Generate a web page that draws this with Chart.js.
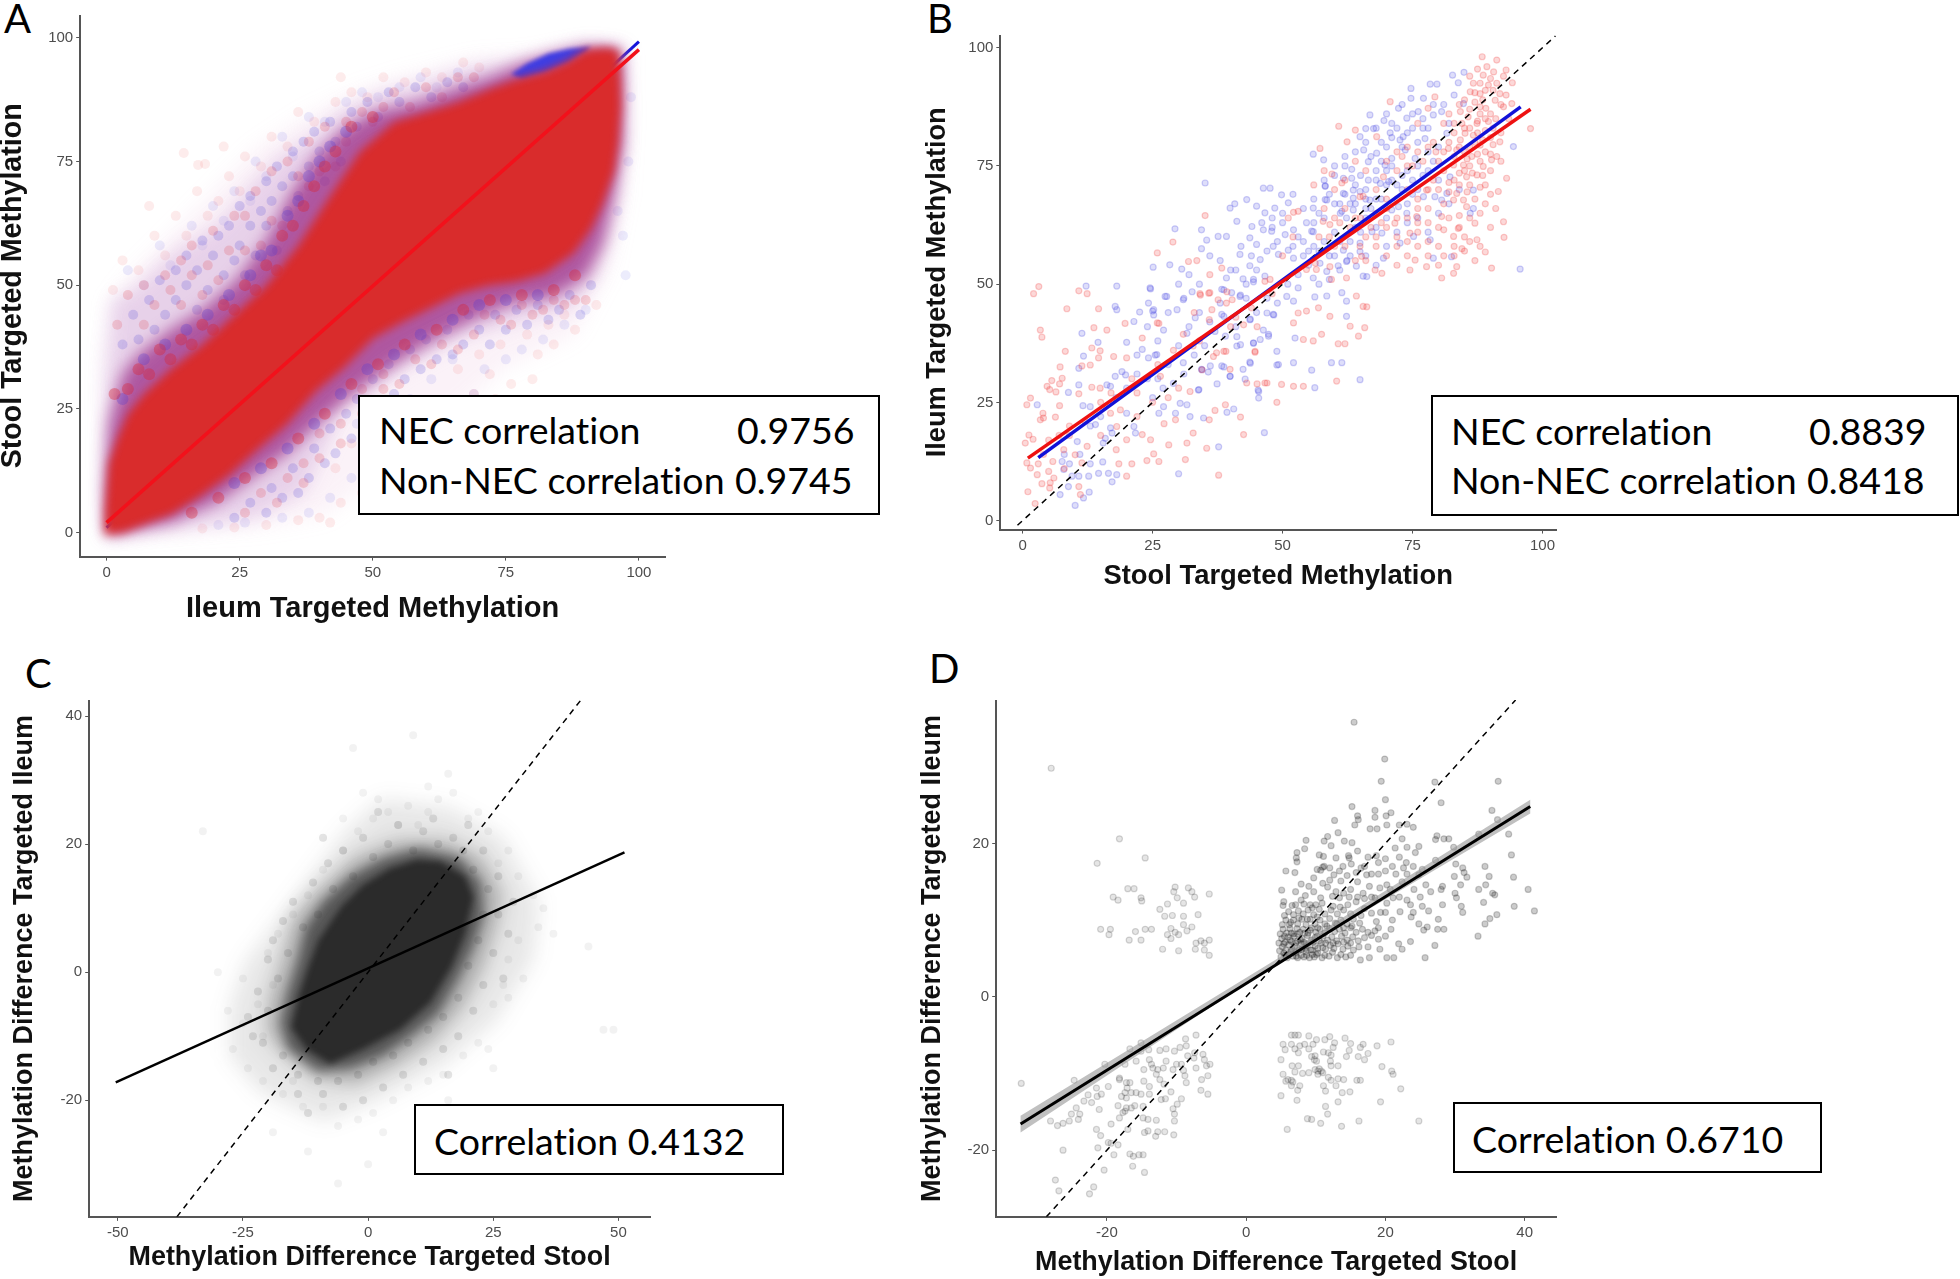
<!DOCTYPE html>
<html>
<head>
<meta charset="utf-8">
<title>Stool and ileum targeted methylation</title>
<script src="https://cdn.jsdelivr.net/npm/chart.js@4/dist/chart.umd.js"></script>
<style>
  html, body { margin: 0; background: #fff; }
  #page { position: relative; width: 1960px; height: 1279px; overflow: hidden; }
  canvas { position: absolute; }
  .letter { position: absolute; font: 400 40px Lato, sans-serif; line-height: 42px; color: #000; }
  .box { position: absolute; background: #fff; border: 2px solid #000; box-sizing: border-box; }
  .note { position: absolute; font: 37.5px Lato, sans-serif; font-variant-ligatures: none; line-height: 40px; color: #000; white-space: nowrap; }
</style>
</head>
<body>
<div id="page">
  <div class="letter" style="left:4px;top:-3px">A</div>
  <div class="letter" style="left:927px;top:-3px">B</div>
  <div class="letter" style="left:25px;top:652px">C</div>
  <div class="letter" style="left:929px;top:647px">D</div>

  <canvas id="chartA"></canvas>
  <canvas id="chartB"></canvas>
  <canvas id="chartC"></canvas>
  <canvas id="chartD"></canvas>

  <div class="box" style="left:358px;top:395px;width:522px;height:120px"></div>
  <div class="note" style="left:379px;top:410px">NEC correlation</div>
  <div class="note" style="left:737px;top:410px">0.9756</div>
  <div class="note" style="left:379px;top:460px">Non-NEC correlation</div>
  <div class="note" style="left:735px;top:460px">0.9745</div>

  <div class="box" style="left:1431px;top:395px;width:528px;height:121px"></div>
  <div class="note" style="left:1451px;top:411px">NEC correlation</div>
  <div class="note" style="left:1809px;top:411px">0.8839</div>
  <div class="note" style="left:1451px;top:460px">Non-NEC correlation</div>
  <div class="note" style="left:1807px;top:460px">0.8418</div>

  <div class="box" style="left:414px;top:1104px;width:370px;height:71px"></div>
  <div class="note" style="left:434px;top:1121px">Correlation 0.4132</div>

  <div class="box" style="left:1453px;top:1102px;width:369px;height:71px"></div>
  <div class="note" style="left:1472px;top:1119px">Correlation 0.6710</div>
</div>

<script>
const ticksAB = [0, 25, 50, 75, 100];
const ticksCx = [-50, -25, 0, 25, 50];
const ticksCy = [-20, 0, 20, 40];
const ticksDx = [-20, 0, 20, 40];
const ticksDy = [-20, 0, 20];

// Panel A: density outlines of the saturated cloud
const cloudAFar = [[0,-.8],[14.5,.4],[28.5,1.2],[41.4,3.7],[49,10.3],[57.6,16.9],[66.3,25.2],[74.9,33.4],[87.8,40],[94.3,53.2],[97,68.1],[97.8,82.9],[97.5,97.8],[90,98.6],[79.2,96.1],[69.5,95.7],[55.5,92],[46.8,89],[37.1,84],[27.4,77],[16.6,65],[4.7,52],[1,47],[-.6,33.4]];
const cloudAPale = [[0,-.7],[16,1],[28,3],[37,8],[44.7,25],[55.5,33],[66,39],[77,42.5],[88,45.8],[92,52],[95,62],[96.8,78],[97,97.5],[90,98.3],[80,95.5],[68,94],[60,91],[52,89],[44.4,85.4],[39.4,80.8],[32.5,76],[27.5,70.7],[21.3,62.6],[13,57],[4.9,49],[1,47],[-.3,30]];
const cloudAMid = [[0,-.6],[12.3,2.1],[20.9,6.2],[26.3,10.3],[33.9,16.1],[40.4,22.7],[46.8,28.5],[54.4,34.2],[61.9,39.2],[69.5,43.3],[77,46.6],[83.5,47.4],[90,51.6],[93.2,58.2],[95.4,68.1],[97,78.8],[97,91.2],[96.5,97.9],[90,98.2],[84.6,96.9],[78.1,94.9],[72,92],[66,90],[58.7,87],[50,85],[44.4,81.4],[39.4,76],[34.7,68.6],[30,59],[24.4,51],[18,45],[12,41],[6,36],[3,32],[.4,22],[-.3,8.7]];
const cloudACore = [[-.3,-.4],[3.1,0],[8,2],[12.3,3.7],[17.7,7.4],[23,11.5],[28.5,16.9],[33.9,21.9],[39.3,28.5],[44.7,33.4],[50,39.2],[55.5,42.5],[60.9,45.4],[66.3,48.3],[71.6,49.9],[77,50.7],[82.4,52.4],[87.8,56.5],[91.1,61.5],[93.2,66.4],[95.4,73],[96.2,78.8],[96.7,86.2],[96.5,92.8],[96.2,97.3],[94.3,98],[90,97.6],[86.8,95.3],[82.4,93.2],[77,91.6],[72.7,90],[66,87],[60,85],[54,83],[47.6,77],[42,68],[36,58],[30,50],[24,44],[18,38],[12,33],[7,28],[4,24],[2,19],[.4,14],[-.3,4.5]];
const cloudATip = [[76,92.6],[79,94.8],[83,96.8],[87,97.8],[91,98.2],[90,97],[87,95],[82.5,93],[78,91.6]];
const speckleARed = [[14.5,76.7],[17.2,74.3],[18.5,74.5],[1.2,49],[3,55],[6,53],[9,60],[11,56],[13,64],[15,60],[17,69],[19,64],[21,67],[23,72],[25,69],[26,76],[29,74],[31,80],[34,78],[36,85],[39,83],[43,87],[46,89],[49,88],[52,92],[56,91],[60,93],[63,92],[67,95],[70,94],[8,66],[22,78],[44,92],[60,24],[64,21],[69,28],[72,32],[76,30],[81,36],[84,38],[88,41],[50,12],[48,8],[44,6],[40,3],[36,2.5],[30,1.5],[24,1],[18,.8],[46,18],[43,13],[54,20],[58,17],[63,26],[66,33],[70,36],[74,38],[79,40],[83,42],[86,44],[42,2],[52,7],[56,12],[67,22],[73,27],[80,31],[92,46]];
const speckleABlue = [[4,53],[7,50],[10,58],[12,54],[16,62],[18,58],[20,66],[22,63],[24,69],[27,67],[28,75],[30,72],[33,80],[35,76],[38,84],[41,83],[45,87],[48,89],[51,88],[55,90],[59,92],[62,90],[66,93],[69,28],[71,33],[75,35],[78,37],[82,39],[86,42],[90,45],[62,23],[59,19],[55,15],[50,16],[46,11],[42,7],[38,4],[33,3],[21,1.5],[26,2],[47,22],[53,24],[57,27],[61,31],[65,35],[96,65],[97,60],[98,75],[98.5,88],[97.5,52]];
const mottleABlue = [[3,38],[5,44],[6,39],[8,47],[9,41],[10,51],[11,44],[13,53],[13,47],[15,50],[15,56],[17,45],[17,53],[18,59],[19,49],[20,56],[21,60],[22,52],[22,47],[23,62],[24,55],[25,58],[25,66],[26,52],[27,62],[27,68],[28,56],[29,65],[30,62],[30,71],[31,67],[32,57],[32,74],[33,70],[34,65],[35,77],[35,72],[36,68],[37,79],[38,74],[39,81],[40,77],[41,71],[42,83],[43,79],[44,75],[46,85],[47,82],[49,87],[51,84],[53,89],[55,87],[58,90],[61,88],[64,91],[67,90],[24,3],[27,6],[30,4],[31,9],[33,7],[35,13],[36,8],[38,11],[39,17],[41,14],[42,21],[43,16],[45,24],[46,19],[47,27],[49,22],[50,31],[51,26],[53,34],[54,28],[56,31],[57,37],[59,33],[60,39],[62,35],[64,41],[65,36],[67,38],[68,44],[70,41],[72,38],[73,44],[75,41],[77,45],[79,42],[81,46],[83,43],[85,45],[87,48],[89,44],[91,50]];
const mottleARed = [[2,42],[4,48],[7,42],[7,50],[9,46],[11,52],[12,49],[14,46],[14,55],[16,52],[16,58],[18,48],[19,54],[20,61],[21,51],[23,57],[24,64],[26,57],[26,64],[28,69],[29,58],[31,63],[31,73],[33,62],[34,75],[36,72],[38,70],[38,79],[40,73],[41,82],[43,74],[45,83],[45,79],[48,85],[50,83],[52,86],[54,89],[57,86],[60,90],[63,88],[66,92],[69,92],[26,4],[29,8],[32,6],[34,11],[37,10],[37,14],[40,15],[40,20],[44,18],[44,22],[48,24],[48,29],[52,29],[52,32],[55,30],[58,35],[61,34],[63,38],[66,37],[69,40],[71,44],[74,43],[76,42],[78,46],[80,44],[82,45],[84,47],[86,46],[88,47],[90,47]];
const bandARed = [[1.5,28],[4,29],[6,33],[8,32],[10,37],[12,35],[14,39],[16,38],[18,42],[20,41],[22,46],[24,45],[26,50],[28,49],[30,54],[32,53],[33,60],[35,62],[37,66],[39,70],[41,74],[43,77],[46,82],[50,84],[16,4],[21,7],[26,11],[31,14],[36,19],[41,24],[46,30],[51,34],[56,38],[62,41],[67,45],[72,47],[78,48],[84,49],[88,52]];
const bandABlue = [[3,27],[7,35],[11,38],[15,41],[19,44],[23,48],[27,52],[29,56],[31,57],[34,64],[36,67],[38,72],[40,75],[42,78],[45,81],[24,10],[29,13],[34,17],[39,22],[44,28],[49,33],[54,36],[59,40],[65,43],[70,46],[75,47],[81,48]];
const lineARed = [[0,2],[100,97.6]];
const lineABlue = [[0,1],[100,99.2]];

// Panel B: individual points
const pointsBRed = [[3.1,49.5],[2.1,48],[8.5,44.8],[10.8,48.6],[12.4,48],[14.6,44.8],[3.4,40.3],[3.7,38.8],[8.2,35.8],[13.7,40.8],[16.2,40.3],[19.7,41.7],[23,38.6],[26.2,41.7],[14.9,35.9],[13.3,36.5],[14.6,34.4],[13,32.9],[11.4,32.7],[7.2,32.5],[7.6,30.1],[5.6,29.6],[4.7,28.4],[5.2,27.7],[6.4,27.2],[7.1,28.9],[10.8,26.8],[13.3,28.2],[14.9,28],[17.5,34.7],[20,34.4],[1.5,25.9],[.8,24.5],[7.1,24.3],[3.9,22.7],[4,21.7],[6.3,21.9],[3.4,21.3],[1.2,18.1],[2,17.2],[.5,16.4],[.8,12.2],[1.5,11.1],[2.8,9.7],[5,10.4],[5.8,12.5],[5.3,8],[3.7,7.8],[5.2,6.9],[1,6.1],[2.4,3.6],[7.9,15],[10.1,13.9],[12.4,15.7],[11.4,12.2],[10.8,7.2],[11.1,5.5],[16.9,22.7],[18.8,23.4],[18.1,19.9],[20,17.1],[23,18.2],[24.6,17.1],[27.2,20.5],[29.4,21.3],[28.1,16],[31.6,16.4],[32.8,18.5],[23.9,12.7],[26.2,12.5],[31.3,12.9],[25.2,14.1],[21,12],[18.5,12],[20,9.4],[35.4,15.3],[37.7,9.6],[37,23.3],[35.9,21.3],[39,24.5],[41.9,21.9],[42.5,18.2],[45.1,28.9],[47,29.1],[48.9,25],[39.9,32],[38.7,35.8],[44.7,35.8],[36.7,34.7],[32.2,27.3],[34.5,31.9],[26.5,30.5],[35.9,42.5],[39.3,48.4],[35.8,48.1],[34.2,47.7],[40.3,46.7],[42.5,41.4],[45.1,41],
[28.9,58.9],[25.9,56.6],[31.9,54.8],[33.5,55],[36,52],[38.3,53.4],[36,48.2],[34.1,48],[35.1,64.5],[52.1,65.2],[53,65.4],[51.1,64],[57.8,63.3],[59.1,62.6],[46.6,50.6],[47.6,51],[39.2,46],[37.6,46.7],[36.4,44.6],[25.9,41.8],[30.9,39.4],[32.8,36.9],[37.3,35.5],[39.1,35.8],[44.7,35.6],[43.1,29.1],[46.6,29.1],[49.8,28.8],[52.1,28.4],[54,28.4],[60.4,29.5],[60.7,37.4],[62,37.4],[57.5,39.4],[55.9,38],[54,38.3],[52.1,41.8],[53,43.9],[54.6,44.3],[56.9,45],[59.1,43.2],[63,41.1],[64.6,39],[65.8,40.8],[65.5,45.3],[66.2,45.2],[64.2,47.5],[59.4,51],[56.5,53.1],[54.6,53.1],[62.3,51.3],[65.2,55.9],[64.9,58],[61.4,71.4],[65.5,68.6],
[88.4,98.1],[91.2,97.4],[93,95.3],[89.3,96],[90.6,94.9],[88.6,94.2],[86.7,92.5],[94.2,92.6],[91.2,92.5],[89.6,92.1],[91.8,90.3],[88,90.3],[86.1,90.7],[79.3,89.6],[78,87.2],[89.1,87.2],[88,87.5],[92.5,87.5],[94.1,88.2],[90.9,88.9],[84.2,86.5],[85.7,85.4],[87.4,84],[89.6,84.4],[97.7,82.9],[84.2,80.5],[85.1,81.9],[86.7,81.5],[81.9,78.7],[83.5,78.4],[86.4,77],[88,79.4],[91.8,80.1],[90.2,76.3],[91.2,77],[88.6,74.9],[84.8,75.2],[82.9,75.2],[93.1,72.4],[91.5,69.6],[87.4,73.1],[85.4,72.7],[83.5,69.2],[84.8,67.8],[82.9,67.8],[85.4,66.4],[83.8,61.8],[82.9,60.1],[87.4,59.4],[92.5,63.2],[92.6,59.9],[89,56.8],[90.2,53.4],[83.5,53.7],[82.9,52.3],[87,62.9],[57.2,78.7],[60.8,83.4],[62.4,80.1],[64,82.6],[59.5,73.3],[64.9,68.5],[68.1,81.2],[69.4,72.7],[70.7,88.6],[77.7,69.9],[75.8,64.3],[74.5,60.8],[71.6,62.9],[80.6,64.3],[75.5,55.1],[77.7,53.7],[74.5,53],[69.1,52.3],[81,61.5],[80.6,51.3],[56.3,54.4],[59.1,53.7],[67.8,53],
[87,88.5],[88.5,89],[90,86],[89,85],[91,85],[87.5,82],[89,82.5],[90.5,83],[86,79],[87.5,77.5],[89,78],[90.5,79.5],[85,78],[84,73.5],[86,71],[88,70.5],[84,64.5],[85.5,69.5],[82,71.5],[81,67],[79,72],[77,76],[79,80],[81,84],[83,84],[76,84],[74,79],[72,74],[70,68],[68,65],[78,63],[80,58],
[86,94],[87.5,95.5],[90,93.5],[92.5,94],[85,89],[87,90.5],[89,91],[93,90],[92,88],[86,87],[84,88],[82,86],[83,82],[85,83],[88,86],[90,81],[92,82],[93.5,85],[82,80],[84,79],[86,75],[88,76],[90,74],[92,76],[80,76],[81,74],[83,72],[85,74],[87,68],[89,71],[89,67],[91,66],[86,64],[84,62],[82,64],[80,62],[78,66],[76,68],[74,70],[72,68],[75,75],[73,77],[70,76],[68,70],[66,74],[64,76],[62,72],[60,70],[58,74],[56,71],[58,66],[60,64],[62,66],[64,64],[66,60],[68,58],[70,56],[72,58],[74,56],[76,58],[78,56],[80,54],[85,57],[87,55],[83,58],[85,60],[76,61],[72,54],[70,62],[68,60],[52,60],[50,56],[48,48],[44,45],[41,43],[33,44],[29,36],[26,33],[22,27],[21,30],[17,27],[15,25],[12,21],[9,20],[7,18],[5,17],[4,14],[3,12],[6,9],[8,11],[9,18],[15,18],[18,15],[22,22],[25,25],[28,26],[30,28],[34,38],[40,41],
[88,92.5],[90.5,91],[87.5,84.5],[86,83],[84.5,84],[88.5,80.5],[90,77.5],[87,80],[85.5,76.5],[83,77],[81,78],[79.5,78],[78,79],[76,78],[74,75],[72,78],[84,71],[86.5,73.5],[88.5,73],[82,69.5],[80,70],[78,70],[76,66],[74,64],[72,64],[70,66],[78,59],[81,56],[83,56],[84.5,57.5],[86,59],[88,65],[90,69],[90,62],[88,58],[76,63],[74,59],[72,60],[69,63],[67,62],[65,64],[63,62],[61,63],[59,60],[57,60],[62,58],[64,55],[66,55],[60,58]];
const pointsBBlue = [[12.2,49.6],[18.1,49.6],[24.6,49],[17.8,45.3],[18.1,44.6],[22.5,44.1],[25.2,44.6],[25.2,43.5],[24.2,46],[27.4,47.4],[31,47],[11.4,39.6],[14.5,37.7],[20,37.7],[21.4,42.1],[27.1,40.3],[31.6,39.6],[29.7,44.6],[32.6,48.4],[23,36.2],[24.2,34.4],[25.5,35],[22,35],[10.8,32.2],[11.7,34.8],[19.1,31.5],[19.8,30.8],[17.8,30.5],[16.2,28.7],[16.9,28.4],[13,24.1],[11.6,24.3],[8.8,27.1],[10.8,28.7],[2.8,24.5],[14,20.3],[16.9,19.6],[17.2,18.5],[15.9,17.4],[20,22.7],[21.4,19.9],[21.7,18.5],[15.5,16.4],[10.5,16.7],[7.6,12.5],[7.9,10.8],[10.8,9.4],[12.7,9.4],[9.5,9.4],[8.8,7.2],[12.8,6],[7.2,5.5],[10.1,3.2],[11.7,4.8],[14.6,10],[16.5,10],[18.1,9.7],[17.2,8.2],[15.4,12.4],[30.3,24.8],[31.6,24.5],[29.4,22.7],[26.2,22.7],[27.1,24.1],[33.9,27.7],[34.5,31.9],[36.1,32.7],[38.7,32.5],[39.9,30.5],[37.4,28.9],[42.8,29.9],[43.8,33.3],[45.4,27.3],[45.4,25.9],[40.6,23.6],[39.3,22.9],[46.5,18.6],[37.7,15.6],[30,9.9],[32.2,22],[34.8,21.7],[47.3,39],[44.4,37.5],[41.9,37.2],[41.2,38.9],[46.3,40.3],[43.8,42.6],[48.3,43.5],[47,43.9],[38.7,43.2],[41.9,47.7],[44.4,50.5],[38.7,48.8],[48.9,32.9],
[35.1,71.4],[41.2,63.3],[46.3,70.3],[47.6,70.3],[49.8,68.9],[43.1,67.9],[40.8,67],[39.9,66.1],[45,66.5],[46.6,65.1],[48.5,66.1],[51.1,67.2],[44.1,62.2],[46.3,61.5],[47.9,61.2],[50.5,60.5],[52.1,61.5],[54.6,63],[55.6,61.2],[55.9,66.1],[58.2,67.9],[58.2,70.7],[61.4,65.4],[62.3,64],[63.6,68.2],[64.9,69.6],[34.4,61.5],[29.3,61.7],[35.4,59.3],[37.6,60.1],[39.2,60.1],[34.4,57.5],[43.7,59.8],[45,58.4],[48.2,58],[51.1,57.2],[49.2,56.3],[52.1,55.5],[41.8,56.3],[43.7,53.9],[45.7,55.2],[30.6,53.2],[25.1,53.6],[28.3,54.1],[39.2,51.3],[42.4,51.1],[44.4,51],[46.6,51.7],[38.3,48.9],[40.2,48.2],[41.8,47.4],[27.7,47.4],[30.9,46.7],[25,44.3],[24.5,49.2],[38.3,43.6],[33.2,42.9],[43.7,42.5],[47.3,39.4],[48.2,43.6],[50.8,47.4],[52.1,46.4],[56.2,47.3],[58.5,47.5],[61.4,48.2],[62.3,46.4],[62.3,43.2],[65.5,51.7],[64.2,53.8],[62.3,54.8],[60.7,53.9],[58.5,52.7],[55.9,51.3],[53,49.2],[52.4,38.6],[48.9,35.8],[52.1,33.4],[49.2,33],[55.6,31.8],[59.4,33.4],[61.4,33.4],[64.9,29.8],[56.2,28.1],[45.3,27.6],[43.7,33.5],[42.4,32],[39.9,30.5],[38.3,32.7],[35.7,31.4],[34.4,32],[30.9,33.4],[33.8,27.6],[25.8,35.1],[41.2,36.9],[44.4,37.6],[45.7,38.3],
[84.9,94.8],[82.7,94.2],[83.8,92.6],[79.7,92.3],[78.4,92.3],[74.7,91.4],[74.7,89.3],[77.1,89.3],[80.6,86.5],[84.8,88.2],[66.8,85.8],[69.5,84.6],[72.3,87.2],[73.9,85.1],[76.1,86.5],[79,85.8],[66,82.9],[67.5,82.9],[70.7,82],[73.2,81.2],[64.9,81.2],[57.9,76.3],[55.9,77.5],[63.3,74.3],[65.6,78.4],[68.1,77.7],[71,76.6],[73.6,78.4],[75.5,76.6],[66.5,75.9],[69.7,75.2],[72.6,80.5],[77.4,80.8],[81.6,81.9],[61.7,72.4],[63.3,72.4],[58.2,70.8],[58.5,67.8],[61.7,69.2],[63.6,69.9],[66.5,72],[68.8,71.3],[70.4,71.7],[66.8,67.8],[61.1,65],[63.6,65.7],[55.9,61.1],[67.2,61.1],[69.1,60.8],[71,65.7],[72.3,66.4],[73.9,65],[77.1,68.5],[79.3,68.5],[80.6,67.8],[82.2,72.7],[86.7,69.9],[86.1,65],[86.7,66],[61.7,57.2],[62.4,55],[64.9,56.9],[66.2,51.6],[69.4,55.5],[72.6,58.7],[75.2,60.1],[78.4,59.4],[79,55.5],[82.5,55.8],[95.7,53.2],[57.2,54.4],[64.9,58.7],[81.6,69.2],[94.4,79.1],
[60,75],[62,77],[64,71],[66,70],[68,74],[70,79],[72,83],[74,82],[76,80],[78,83],[80,79],[70,64],[68,62],[66,64],[64,62],[60,61],[58,59],[56,58],[54,56],[60,56],[73,70],[75,72],[77,73],[79,76],[71,72],[69,68],[67,66],
[69,80],[71,84],[75,86],[77,83],[79,88],[81,88],[82,84],[83,90],[78,78],[74,74],[72,71],[70,74],[68,72],[66,68],[64,67],[62,69],[60,67],[58,64],[56,63],[54,59],[52,58],[50,63],[48,62],[46,63],[44,56],[42,58],[40,53],[38,55],[36,56],[34,50],[32,52],[30,50],[28,44],[26,38],[24,41],[22,31],[20,28],[18,26],[15,22],[13,20],[11,14],[13,12],[9,12],[8,14],[66,56],[68,54],[70,58],[72,61],[74,63],[76,64],[78,61],[80,65],[82,67],[84,70],[76,70],[74,67],[65,61],[63,59],[61,59],[59,56],[57,57],[55,54],[53,52],[51,50],[49,46],[47,47],[45,44],[43,47],[41,41],[39,39],[37,40],[35,37],[33,35],[31,31],[29,29],[27,28],[25,26],
[73,88],[75,83],[77,85],[70,86],[68,83],[66,80],[64,78],[62,75],[60,73],[58,72],[56,68],[54,66],[52,69],[50,65],[48,64],[71,81],[73,79],[76,75],[78,74],[80,72],[70,71],[68,68],[66,66],[63,67],[61,67],[59,69],[57,65],[55,57],[53,60],[49,59],[47,57],[45,53],[43,50],[41,53],[38,46],[36,42],[34,44],[32,41],[30,37],[28,33],[26,30],[24,30],[65,73],[67,77],[69,76],[71,75],[73,73],[75,69],[63,56],[61,53],[59,51],[57,50]];
const lineBRed = [[1,13.2],[97.7,87]];
const lineBBlue = [[3,13.3],[95.8,87.5]];
const lineBDash = [[-1,-1],[102.5,102.5]];

// Panel C: density outlines, then the loose points around them
const cloudCOuter = [[-27.6,-13.1],[-21.3,-18.8],[-8.8,-23.3],[1.7,-20.1],[15.3,-14.4],[25.7,-7.4],[33,2.2],[34.1,11.1],[26.8,21.2],[16.3,25.7],[2.7,27],[-4.6,21.9],[-15.1,11.1],[-24.5,1.5],[-27.6,-5.5]];
const cloudCMid = [[-17.2,-12.5],[-10.9,-16.6],[-2.5,-17.5],[5.9,-14.4],[13.2,-10.6],[18.9,-5.5],[23.1,.9],[25.7,7.2],[26.8,12.3],[22.6,18.1],[15.3,20.6],[5.9,20.6],[-2.5,18.1],[-10.9,12.3],[-15.1,8.5],[-17.2,2.2],[-19.8,-4.2],[-20.3,-9.3]];
const cloudCInner = [[-16,-12],[-10,-15.5],[-3.5,-15],[3,-13],[8.5,-10],[14,-6.5],[18,-1],[21,4],[23,9],[22.5,14],[18,18],[10,19.3],[3,17.8],[-3.5,15],[-9,11],[-12.5,7],[-14,2],[-16,-3],[-17.5,-8]];
const cloudCCore = [[-12.3,-12],[-7.6,-14.3],[-1,-12],[6.4,-8.9],[12.4,-4.7],[16.6,.8],[19.3,6],[21,11.7],[19.3,15],[14.4,17.3],[9.7,17.5],[4.4,16.2],[-1,13.6],[-5.3,10.3],[-9.9,5],[-11.9,.8],[-13.9,-3.9],[-15.3,-8.6]];
const speckleC = [[2,27],[4,25],[8,26],[12,25],[14,27],[17,28],[20,24],[24,22],[28,19],[30,15],[33,12],[35,10],[34,7],[30,5],[28,2],[27,-2],[25,-5],[25,-15],[22,-11],[19,-13],[15,-16],[12,-17],[8,-18],[5,-20],[1,-22],[-2,-23],[-6,-24],[-9,-21],[-13,-21],[-17,-19],[-21,-17],[-24,-15],[-27,-12],[-25,-8],[-22,-5],[-25,-1],[-20,3],[-18,6],[-15,9],[-12,12],[-9,16],[-5,19],[-2,22],[1,24],[6,23],[10,23],[-5,24],[-19,-2],[-21,-10],[-15,-17],[28,-4],[-1,28],[12,29],[16,31],[-3,35],[47,-9],[49,-9],[37,6],[44,4],[-33,22],[-12,-28],[0,-30],[-6,-33],[-19,-25],[10,-24],[9,37],[22,25],[26,17],[31,-1],[24,-12],[16,-20],[3,-25],[-28,-6],[-30,0]];
const fringeC = [[-20,-6],[-17,-13],[-21,-11],[-14,-16],[-18,-1],[-16,3],[-19,5],[-13,7],[-15,11],[-10,9],[-11,14],[-7,13],[-8,17],[-3,15],[-5,19],[1,18],[-1,21],[4,20],[6,23],[9,19],[11,22],[14,20],[13,24],[17,21],[19,19],[21,16],[23,19],[24,13],[26,15],[23,9],[26,9],[22,5],[25,3],[28,6],[20,1],[23,-2],[18,-4],[21,-6],[15,-7],[18,-10],[12,-9],[15,-12],[8,-11],[11,-14],[5,-13],[7,-16],[1,-14],[3,-18],[-2,-16],[-1,-20],[-6,-17],[-5,-21],[-10,-17],[-9,-19],[-14,-19],[-19,-15],[-23,-10],[-22,-3],[-20,2],[-24,-7],[-12,-22],[16,-16],[27,-1],[29,11],[20,23],[2,25],[-9,21],[-17,8]];
const lineCFit = [[-50.4,-17.2],[51.2,18.7]];
const lineCDash = [[-38.2,-38.2],[42.4,42.4]];

// Panel D: individual points by cluster
const pointsDUpperRight = [[15.5,35.8],[19.9,31],[19.4,28.1],[20,25.7],[15.2,24.8],[18.5,24.3],[18.5,23.4],[20.1,23.6],[20.8,24],[16,23.6],[16.1,23.1],[12.7,23],[15.6,22.4],[18.8,21.9],[17.8,21.9],[20.2,22.4],[22,22.4],[23.1,22.5],[13.2,21.4],[24,22.1],[27.1,28],[28,25.3],[36.2,28.1],[35.3,24.3],[36.1,23.1],[37.7,21.2],[38.1,18.5],[38.4,15.6],[40.5,14],[41.4,11.2],[38.5,11.8],[36,10.7],[35,10.2],[34.3,9.5],[33.3,7.9],[34.1,12.3],[35.4,13.5],[35.7,13.3],[34.4,14.6],[33.4,14],[34.9,15.7],[34.3,17],[33.4,21.2],[31.1,16.8],[31.3,16.2],[31.7,15.6],[30.8,14.6],[30,13.5],[30.2,12.9],[30.9,11.8],[31.1,11],[29.8,19.5],[30.1,17.3],[29.9,15.7],[28.4,20.6],[29.1,20.6],[27.4,21],[27.2,20.5],[28.2,14.4],[28,14],[28.2,12],[27.6,10.1],[27.5,8.8],[28.4,8.8],[27.1,6.7],[25.7,5.1],[8.6,20.4],[8.4,19.3],[7.3,18.8],[7.2,18.1],[7.3,17.6],[5.7,16.4],[7,16.2],[11.2,20.3],[11.7,20.9],[12.2,19.7],[11.1,18.3],[11.2,17],[10.2,16.6],[9.7,15.5],[7.9,14.7],[5.1,13.9],[7.1,13.7],[7.9,12.6],[5.4,12.4],[6.6,11.9],[5.3,11.9],[14.1,20.3],[15.2,20.1],[14.7,18.4],[14.8,18.1],[13.9,17],[15.1,17.3],[12.9,18.1],[13.4,16.4],[11.7,14.3],[13.6,15.1],[9.7,13.7],[12.9,13.7],[13.4,12.9],[10.7,12.9],[12.4,13.1],[9.2,12],[16.5,16.8],[17.3,15.9],[18.7,18.4],[20,16.4],[21.4,19.4],[22.4,20.6],[24.8,19.6],[23.1,19.5],[24.3,18.8],[22.6,16.8],[23.1,16],[25.3,16.6],[25.8,14.6],[27.2,17.8],[26.5,13.7],[24.8,15.9],[24.1,14],[22.4,15],[20.2,14.6],[20.7,14],[19.2,14.2],[17.7,14.4],[16.8,13.5],[15.8,12.4],[14.6,12],[18.5,12.9],[20.2,12.2],[21.1,12.9],[23.1,12.6],[23.6,12],[25.3,11.8],[26.2,11.2],[23.7,10.4],[22.1,11.1],[19.3,11],[18,10.9],[16.5,10.6],[24.8,9.5],[26,9.1],[25.5,8.7],[20.8,8.8],[20,7.9],[18.7,9.8],[17.5,8.4],[23.6,7.2],[22.4,6.2],[21.9,6.9],[20.2,5.1],[21.2,5.1],[19.2,6.2],[17.7,5.1],[16.4,4.8],
[5,5.2],[5.4,5.7],[5.9,5.1],[6.2,5.5],[6.7,5.3],[7.1,5.8],[7.4,5.1],[7.9,5.4],[8.3,5.2],[8.6,5.9],[9.1,5.1],[9.5,5.5],[9.8,5.2],[10.3,5.7],[10.9,5.1],[11.3,5.4],[11.9,5.3],[12.4,5.8],[13.1,5.1],[13.6,5.5],[14.3,5.2],[15,5.4],[4.8,6],[5.2,6.5],[5.7,6.1],[6.1,6.8],[6.6,6.2],[7,6.6],[7.6,6.1],[7.9,6.9],[8.5,6.3],[8.8,6.7],[9.3,6.1],[9.9,6.6],[10.3,6.3],[10.8,7],[11.4,6.2],[12.1,6.7],[12.6,6.3],[13.2,6.9],[13.9,6.2],[14.6,6.6],[15.4,6.1],[16.2,6.5],[4.7,7],[5.1,7.6],[5.6,7.1],[6,7.8],[6.5,7.2],[6.9,7.9],[7.4,7.3],[8,7.6],[8.3,7.1],[8.8,8],[9.4,7.4],[9.9,7.7],[10.5,7.3],[11,7.9],[11.7,7.4],[12.3,7.8],[13,7.3],[13.7,7.9],[14.5,7.4],[15.3,7.8],[16.1,7.3],[17,7.7],[4.9,8.2],[5.3,8.8],[5.8,8.3],[6.3,8.9],[6.8,8.2],[7.3,8.9],[7.7,8.4],[8.2,8.8],[8.9,8.3],[9.4,9],[10,8.4],[10.6,8.8],[11.3,8.3],[12,8.9],[12.7,8.5],[13.4,8.8],[14.2,8.3],[15,9],[15.8,8.4],[16.7,8.8],[5.2,9.4],[5.7,10],[6.2,9.4],[6.8,10],[7.4,9.5],[8,10.1],[8.6,9.4],[9.2,10.1],[9.9,9.5],[10.6,10],[11.3,9.5],[12,10.2],[12.8,9.6],[13.6,10],[14.5,9.5],[15.4,10.1],[16.3,9.6],[5.5,10.6],[6.1,11.1],[6.8,10.7],[7.5,11.2],[8.2,10.8],[8.9,11.3],[9.7,10.7],[10.5,11.4],[11.3,10.8],[12.2,11.3],[13.1,10.8],[14,11.3],[15,10.8],[10.7,16.5],[11,16.9],[12,15.2],[9,14.4],[8.5,13.2],[10,12],[11,14.8],[16,15],[17,17],[19,16],[21,17],[23,17.5],[18,13],[20,11],[22,13],[24,11],[17,11.5],[19,9],[21,10],[15,14],[14,13.5],
[5.6,5.4],[6.4,5.9],[7.2,5.3],[8,6.2],[8.7,5.4],[9.5,6.1],[10.1,5.5],[11,6.4],[5.4,6.9],[6.3,7.4],[7.1,7],[7.8,7.4],[8.6,6.9],[9.6,7.1],[10.2,7.9],[11.4,7],[5.5,7.9],[6.5,8.3],[7.4,8.2],[8.4,8.3],[9.2,8.7],[10.3,9],[11.6,9.2],[6.4,9.7],[7.6,10.3],[8.8,10.1],[10.2,10.4],[7.1,12],[8.3,12.1],[9.5,11.6],[10.9,12.2],[12.5,11.8],[13.5,11.7],[14.8,13],[16,13],[17,12.8],[12.6,15.9],[14.5,15.8],[15.8,16.2],[18,16],[19,17.5],[20,18],[21.5,16],[22,18.2],[16,19],[17.5,18.2],[12,16.8],[10.5,18.5],[24,17],[25,13],[12.5,7],[14,7.1],[15,7],[13,9.5],[14,9],[15.2,9.2],[18,8],[19,7.5],[17.5,6.5],[18.5,8.6]];
const pointsDUpperLeft = [[-28,29.8],[-18.2,20.6],[-21.4,17.4],[-14.5,18.1],[-17,14.1],[-16.1,14.1],[-19.1,13],[-18.4,12.6],[-15.1,12.9],[-15,12.5],[-10.2,14.3],[-10.4,13.7],[-8.3,14.2],[-7.8,13.7],[-9.9,12.9],[-5.3,13.4],[-7.4,13],[-12.4,11.4],[-11.3,12.1],[-9,12.2],[-10.6,10.6],[-11.7,10.5],[-6.9,10.7],[-9,10.5],[-9,9.4],[-7.8,9.1],[-8.5,8.6],[-10.8,8.9],[-10.2,8.4],[-11.3,8.1],[-9.7,8.1],[-10.8,7.6],[-20.9,8.8],[-19.5,8.8],[-19.7,8.1],[-16.8,7.4],[-15.9,8.5],[-15.1,7.4],[-14.5,8.8],[-13.6,8.8],[-12,6.2],[-9.7,6],[-7.2,7],[-6.5,7.3],[-5.3,7.4],[-6,7],[-7.3,6.2],[-6,6.1],[-5.3,5.4]];
const pointsDLowerLeft = [[-32.3,-11.3],[-24.7,-10.9],[-28.1,-16.2],[-27.1,-16.8],[-26.3,-16.5],[-25.4,-16.2],[-25.1,-15.3],[-23.9,-15.3],[-24.1,-16],[-24.4,-14.5],[-23.3,-13.6],[-22.2,-13.8],[-22.7,-12.8],[-21.4,-13],[-20.8,-12.7],[-21.5,-11.9],[-19.8,-11.7],[-18.2,-10.8],[-20.3,-8.8],[-16.7,-6.8],[-15.1,-6],[-17.2,-11.2],[-16.7,-11.2],[-17.1,-11.9],[-17.4,-12.5],[-17.9,-13],[-17.2,-13.2],[-16.5,-12.5],[-15.8,-12.5],[-15.1,-12.7],[-13.9,-12.7],[-13.9,-11.7],[-14.7,-11],[-18.4,-14.2],[-17.2,-14.5],[-16.5,-14.5],[-16,-14.2],[-17.7,-15.1],[-18.2,-15.8],[-17.4,-14.9],[-14.8,-14.3],[-17,-17.3],[-14.8,-15.8],[-14.1,-16],[-12.9,-16.1],[-21.1,-14.7],[-19.4,-16.6],[-21.5,-17.3],[-20.9,-18.1],[-18.4,-19.3],[-19.8,-19],[-19.4,-19.1],[-21.3,-19.7],[-26.3,-20],[-19,-20.6],[-16.7,-20.5],[-16.2,-20.8],[-15.4,-20.6],[-14.8,-20.6],[-16.3,-22.1],[-14.6,-22.9],[-20.4,-22.6],[-27.4,-23.9],[-26.9,-25.3],[-22.5,-25.7],[-21.9,-24.8],[-14.6,-17.7],[-14.1,-17.5],[-13,-18.2],[-12.7,-17.6],[-11.7,-17.6],[-10.4,-18],[-10.3,-16.2],[-10.3,-15.3],[-10.5,-14.6],[-9.9,-14],[-9.3,-13.3],[-12.2,-13.4],[-11.6,-13.3],[-10.8,-12.4],[-6.5,-12.2],[-5.5,-12.7],[-6.4,-10.8],[-5.5,-10.3],[-8.6,-11.2],[-8.8,-10.3],[-11.8,-11.4],[-12.4,-10.8],[-12.9,-10.1],[-13.4,-9.3],[-12.7,-9.5],[-11.9,-9.3],[-10.5,-9.5],[-10,-8.8],[-9,-9.6],[-9.3,-8.8],[-11.5,-8.4],[-13.9,-8.2],[-13.6,-8.8],[-14.7,-9.5],[-15.8,-8.4],[-17.4,-8.8],[-18.2,-10.6],[-15.1,-7.1],[-14,-6.9],[-12.4,-7],[-11.5,-6.8],[-10.3,-7.1],[-9.5,-6.6],[-8.6,-6.4],[-8.7,-5.5],[-7.2,-5],[-7.4,-7.3],[-8.4,-7.7],[-6.2,-7.5],[-6,-8.2],[-5.7,-9],[-7.2,-9.3],[-5.2,-8.8],[-7.5,-8]];
const pointsDLowerRight = [[6.5,-5],[7,-5],[7.5,-5],[9,-5.1],[10.1,-5.6],[12,-5.2],[11.3,-5.6],[14.2,-5.4],[5.3,-6.2],[5.6,-6.9],[6.5,-6.2],[7,-6.8],[7.7,-6.4],[8.4,-6.2],[9,-6.8],[9.6,-6.2],[7.5,-7.3],[12.7,-6],[12.5,-6.6],[15,-6.1],[16.8,-6.2],[16.4,-6.6],[18.8,-6.4],[20.8,-5.9],[14.8,-7],[17.5,-7.4],[16.1,-7.8],[17,-8.2],[14.4,-7.8],[11.1,-7.2],[11.8,-7.3],[12.2,-7.6],[9.4,-7.8],[9.9,-7.7],[9.8,-8.2],[10.1,-8.4],[5,-8.2],[12.1,-8.4],[12.2,-9],[13.2,-9],[7.5,-9],[6.6,-9],[7,-9.8],[5.3,-10.1],[8.1,-10],[9,-9.9],[9.9,-9.5],[10.3,-9.7],[10.8,-9.7],[10.5,-9.4],[10.3,-10.1],[11,-9.9],[11.8,-10.5],[12.2,-10.9],[13.2,-10.7],[14,-10.8],[15.9,-10.9],[16.4,-10.9],[19.5,-9.1],[20.9,-9.7],[21.1,-10.1],[6,-10.8],[6.5,-10.9],[6.7,-11.1],[5.7,-11],[7.7,-11.6],[6.5,-11.6],[7.4,-12.2],[11.1,-11.6],[11.4,-12.3],[12.9,-11.6],[13.8,-12.5],[14.9,-12.4],[22.2,-12],[5,-12.9],[7.3,-13.5],[13.2,-13.7],[19.3,-13.7],[11.4,-14.3],[11.7,-15.3],[8.8,-15.9],[9.4,-16],[10.7,-16.5],[13.7,-16.9],[16.2,-16.2],[24.8,-16.2],[5.9,-17.3]];
const lineDFit = [[-32.4,-16.6],[40.8,24.8]];
const lineDDash = [[-28.7,-28.7],[38.7,38.7]];
const ribbonD = [[-32.4,-15.5],[4,4.7],[40.8,25.7],[40.8,23.9],[4,4.1],[-32.4,-17.7]];

const tickFont = { family: 'Liberation Sans', size: 15 };
const tickColor = '#4d4d4d';

function toXY(list) {
    return list.map(p => ({ x: p[0], y: p[1] }));
}

function scatter(list, fill, stroke, radius) {
    return {
        data: toXY(list),
        backgroundColor: fill,
        borderColor: stroke || 'transparent',
        pointRadius: radius || 3,
        pointBorderWidth: stroke ? 1.2 : 0
    };
}

function line(list, color, width, dash) {
    return {
        data: toXY(list),
        showLine: true,
        borderColor: color,
        borderWidth: width,
        borderDash: dash || [],
        pointRadius: 0
    };
}

function area(list, color, blur) {
    return {
        data: toXY(list),
        showLine: true,
        fill: 'shape',
        backgroundColor: color,
        borderColor: 'transparent',
        borderWidth: 0,
        pointRadius: 0,
        softEdge: blur || 0
    };
}

// Hay que correr antes que el filler para que el blur afecte al relleno
const softEdge = {
    id: 'softEdge',
    beforeDatasetDraw(chart, args) {
        const blur = chart.data.datasets[args.index].softEdge;
        chart.ctx.save();
        if (blur) chart.ctx.filter = 'blur(' + blur + 'px)';
    },
    afterDatasetDraw(chart) {
        chart.ctx.restore();
    }
};
const filler = Chart.registry.plugins.get('filler');
Chart.unregister(filler);
Chart.register(softEdge);
Chart.register(filler);

function axis(min, max, ticks, title, titleFont, fitProp, fitValue) {
    return {
        type: 'linear',
        min: min,
        max: max,
        afterBuildTicks: s => { s.ticks = ticks.map(v => ({ value: v })); },
        afterFit: s => {
            s[fitProp] = fitValue;
            s.paddingTop = s.paddingBottom = s.paddingLeft = s.paddingRight = 0;
        },
        border: { display: true, color: '#555', width: 2 },
        grid: { display: true, drawOnChartArea: false, drawTicks: true, tickLength: 4, tickColor: '#555', tickWidth: 1 },
        ticks: { color: tickColor, font: tickFont, padding: 3, autoSkip: false, maxRotation: 0, callback: v => String(v) },
        title: { display: true, text: title, color: '#111', font: titleFont, padding: 0 }
    };
}

// box: plot rectangle in page pixels, plus where the two axis titles sit
function drawPanel(id, box, xRange, yRange, xTicks, yTicks, xTitle, yTitle, layers) {
    const xFont = { family: 'Liberation Sans', weight: 'bold', size: box.xSize };
    const yFont = { family: 'Liberation Sans', weight: 'bold', size: box.ySize };
    const left = box.yTitleAt - box.ySize * 0.6;
    const bottom = box.xTitleAt + box.xSize * 0.6;
    const canvas = document.getElementById(id);
    canvas.style.left = left + 'px';
    canvas.style.top = box.top + 'px';
    canvas.width = box.right + 20 - left;
    canvas.height = bottom - box.top;
    new Chart(canvas, {
        type: 'scatter',
        data: { datasets: layers.slice().reverse() },   // el primero de la lista queda debajo
        options: {
            responsive: false,
            animation: false,
            events: [],
            layout: { autoPadding: false, padding: { top: 0, right: 20, left: 0, bottom: 0 } },
            plugins: { legend: { display: false }, tooltip: { enabled: false } },
            scales: {
                x: axis(xRange[0], xRange[1], xTicks, xTitle, xFont, 'height', bottom - box.bottom),
                y: axis(yRange[0], yRange[1], yTicks, yTitle, yFont, 'width', box.left - left)
            }
        }
    });
}

drawPanel('chartA',
    { left: 80, right: 665, top: 15, bottom: 557, yTitleAt: 13, xTitleAt: 609, xSize: 29, ySize: 28.6 },
    [-4.96, 104.9], [-4.87, 104.6], ticksAB, ticksAB,
    'Ileum Targeted Methylation', 'Stool Targeted Methylation',
    [
        line(lineABlue, '#1414dc', 3),
        area(cloudAFar, 'rgba(225,150,195,.12)', 10),
        scatter(speckleABlue, 'rgba(70,70,230,.1)', null, 5),
        scatter(speckleARed, 'rgba(235,70,70,.1)', null, 5),
        area(cloudAPale, 'rgba(205,165,215,.42)', 9),
        scatter(mottleABlue, 'rgba(80,70,215,.2)', null, 5),
        scatter(mottleARed, 'rgba(225,60,70,.2)', null, 5),
        area(cloudAMid, 'rgba(155,45,135,.74)', 8),
        scatter(bandABlue, 'rgba(85,60,205,.3)', null, 6),
        scatter(bandARed, 'rgba(215,40,55,.38)', null, 6),
        area(cloudATip, 'rgb(62,62,228)', 2),
        area(cloudACore, '#d92c2c', 5),
        line(lineARed, '#f2111b', 3.5)
    ]);

drawPanel('chartB',
    { left: 1000, right: 1556, top: 35, bottom: 530, yTitleAt: 937, xTitleAt: 577, xSize: 27.4, ySize: 27.2 },
    [-4.3, 102.6], [-1.9, 102.7], ticksAB, ticksAB,
    'Stool Targeted Methylation', 'Ileum Targeted Methylation',
    [
        scatter(pointsBBlue, 'rgba(70,70,225,.18)', 'rgba(70,70,225,.26)'),
        scatter(pointsBRed, 'rgba(240,60,60,.2)', 'rgba(240,60,60,.26)'),
        line(lineBDash, '#000', 1.5, [6, 5]),
        line(lineBBlue, '#1111d8', 3.5),
        line(lineBRed, '#ee1111', 3.5)
    ]);

drawPanel('chartC',
    { left: 89, right: 650, top: 700, bottom: 1217, yTitleAt: 24, xTitleAt: 1258, xSize: 26.9, ySize: 27 },
    [-55.7, 56.3], [-38.2, 42.5], ticksCx, ticksCy,
    'Methylation Difference Targeted Stool', 'Methylation Difference Targeted Ileum',
    [
        scatter(speckleC, 'rgba(0,0,0,.05)', null, 4),
        area(cloudCOuter, 'rgba(60,60,60,.12)', 10),
        area(cloudCMid, 'rgba(40,40,40,.3)', 9),
        scatter(fringeC, 'rgba(30,30,30,.12)', null, 4),
        area(cloudCInner, 'rgba(40,40,40,.65)', 6),
        area(cloudCCore, '#2b2b2b', 3),
        line(lineCDash, '#000', 1.5, [6, 5]),
        line(lineCFit, '#000', 2.5)
    ]);

drawPanel('chartD',
    { left: 996, right: 1556, top: 700, bottom: 1217, yTitleAt: 932, xTitleAt: 1263, xSize: 26.9, ySize: 27 },
    [-35.9, 44.5], [-28.7, 38.7], ticksDx, ticksDy,
    'Methylation Difference Targeted Stool', 'Methylation Difference Targeted Ileum',
    [
        scatter(pointsDUpperRight, 'rgba(0,0,0,.2)', 'rgba(0,0,0,.2)'),
        scatter(pointsDUpperLeft, 'rgba(0,0,0,.1)', 'rgba(0,0,0,.16)'),
        scatter(pointsDLowerLeft, 'rgba(0,0,0,.1)', 'rgba(0,0,0,.16)'),
        scatter(pointsDLowerRight, 'rgba(0,0,0,.1)', 'rgba(0,0,0,.16)'),
        area(ribbonD, 'rgba(150,150,150,.6)'),
        line(lineDDash, '#000', 1.5, [6, 5]),
        line(lineDFit, '#000', 3)
    ]);
</script>
</body>
</html>
